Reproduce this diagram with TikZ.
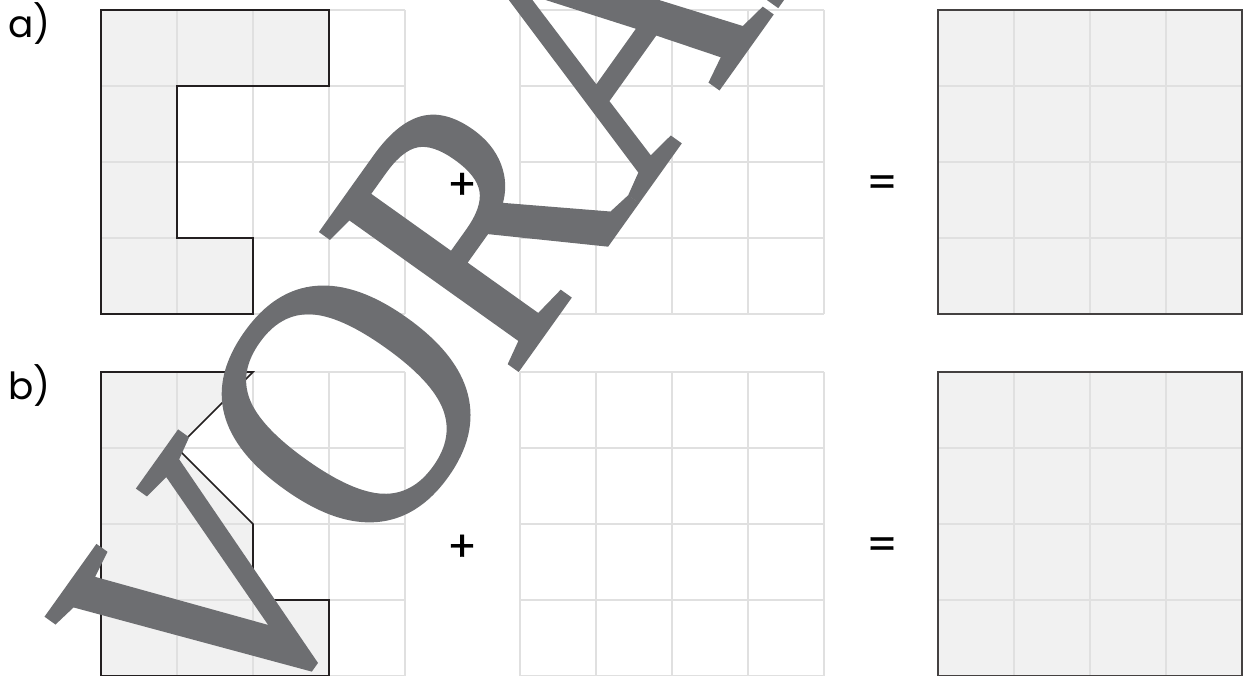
\documentclass[tikz,border=0pt]{standalone}
\usepackage{fontspec}
\setmainfont{Poppins}
\newfontfamily\wmfont[FakeBold=1.2]{Liberation Serif}
\newfontfamily\signfont[FakeBold=0.8]{Poppins}
\usepackage{tikz}
\usetikzlibrary{positioning}
\definecolor{cellgray}{RGB}{241,241,241}
\definecolor{gridgray}{RGB}{224,224,224}
\definecolor{edgeblack}{RGB}{35,31,32}
\definecolor{wmgray}{RGB}{109,110,113}
\tikzset{
  gridline/.style={draw=gridgray, line width=0.75pt},
  piece/.style={fill=cellgray, draw=none},
  pieceedge/.style={draw=edgeblack, line width=0.6pt, line join=miter},
  framebox/.style={draw=edgeblack!85, line width=0.85pt},
  tasklabel/.style={font=\fontsize{14}{17}\selectfont, anchor=base west, inner sep=0pt},
  opsign/.style={font=\signfont\fontsize{16}{18}\selectfont, inner sep=0pt},
  watermark/.style={font=\wmfont\fontsize{133}{133}\selectfont, text=wmgray, anchor=base west, inner sep=0pt,
    rotate=54.5, xscale=0.91, yscale=1.03},
}

\begin{document}
\begin{tikzpicture}
  \useasboundingbox (0,0) rectangle (16.355,-8.882);
  \clip (0,0) rectangle (16.355,-8.882);

  % Piece a) - bracket shape
  \begin{scope}[shift={(1.329,-0.132)}]
    \fill[piece] (0,0) -- (3,0) -- (3,-1) -- (1,-1) -- (1,-3) -- (2,-3) -- (2,-4) -- (0,-4) -- cycle;
  \end{scope}
  % Piece b) - with the notch
  \begin{scope}[shift={(1.329,-4.895)}]
    \fill[piece] (0,0) -- (2,0) -- (1,-1) -- (2,-2) -- (2,-3) -- (3,-3) -- (3,-4) -- (0,-4) -- cycle;
  \end{scope}

  % Grids of both rows
  \foreach \row/\dy in {a/0, b/-4.763} {
    \node[tasklabel] (lbl-\row) at (0.105,-0.487+\dy) {\row)};
    % left and middle grid
    \foreach \gx in {1.329, 6.842} {
      \begin{scope}[shift={(\gx,-0.132+\dy)}]
        \draw[gridline] (0,0) grid (4,-4);
      \end{scope}
    }
    % right grid, the full square
    \begin{scope}[shift={(12.345,-0.132+\dy)}]
      \fill[cellgray] (0,0) rectangle (4,-4);
      \draw[gridline] (0,0) grid (4,-4);
      \draw[framebox] (0,0) rectangle (4,-4);
    \end{scope}
  }

  % Outlines of the pieces
  \begin{scope}[shift={(1.329,-0.132)}]
    \draw[pieceedge] (0,0) -- (3,0) -- (3,-1) -- (1,-1) -- (1,-3) -- (2,-3) -- (2,-4) -- (0,-4) -- cycle;
  \end{scope}
  \begin{scope}[shift={(1.329,-4.895)}]
    \draw[pieceedge] (0,0) -- (2,0) -- (1,-1) -- (2,-2) -- (2,-3) -- (3,-3) -- (3,-4) -- (0,-4) -- cycle;
  \end{scope}

  % Preview watermark across the sheet
  \node[watermark] (wm) at (3.159,-9.985) {VORANSICHT};

  % Plus and equals signs
  \foreach \row/\dy in {a/0, b/-4.763} {
    \node[opsign] (plus-\row) at (6.079,-2.45+\dy) {+};
    \node[opsign] (eq-\row) at (11.605,-2.45+\dy) {=};
  }
\end{tikzpicture}
\end{document}
